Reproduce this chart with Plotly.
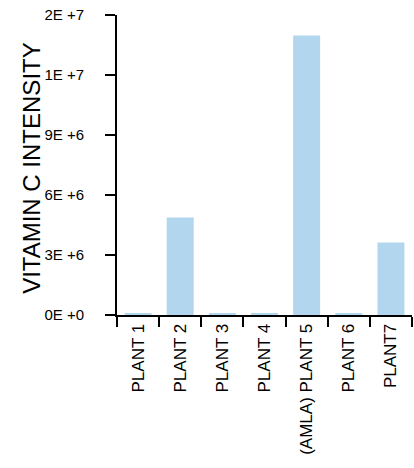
import plotly.graph_objects as go

categories = ["PLANT 1", "PLANT 2", "PLANT 3", "PLANT 4", "(AMLA) PLANT 5", "PLANT 6", "PLANT7"]
values = [80000, 4880000, 80000, 60000, 13980000, 80000, 3630000]
ytick_vals = [0, 3e6, 6e6, 9e6, 1.2e7, 1.5e7]
ytick_text = ["0E +0", "3E +6", "6E +6", "9E +6", "1E +7", "2E +7"]
y_title = "VITAMIN C INTENSITY"

fig = go.Figure(go.Bar(x=categories, y=values, marker=dict(color="#b3d6ef", line=dict(width=0))))

fig.update_layout(
    width=414, height=468,
    margin=dict(l=117, r=2, t=15, b=153),
    plot_bgcolor="white", paper_bgcolor="white",
    bargap=0.36,
    showlegend=False,
    font=dict(family="Liberation Sans, Arial, sans-serif", color="black", size=16),
    annotations=[dict(text=y_title, textangle=-90, xref="paper", yref="paper",
                      x=-0.29, y=0.492, xanchor="center", yanchor="middle",
                      showarrow=False, font=dict(size=24))],
)
fig.update_xaxes(
    type="category", tickangle=-90, showline=True, linecolor="black", linewidth=2,
    ticks="outside", tickson="boundaries", ticklen=10, tickwidth=2, tickcolor="black",
    showgrid=False, tickfont=dict(size=17), range=[-0.5, 6.5], automargin=False,
)
fig.update_yaxes(
    range=[0, 1.5e7], tickvals=ytick_vals, ticktext=ytick_text,
    showline=True, linecolor="black", linewidth=2, ticks="outside", ticklen=10,
    tickwidth=2, tickcolor="black", showgrid=False, zeroline=False,
    tickfont=dict(size=15), automargin=False, ticklabelstandoff=18,
    ticklabeloverflow="allow",
)
fig.write_html("out.html", post_script="document.body.style.margin='0';",
               config={"displayModeBar": False})
